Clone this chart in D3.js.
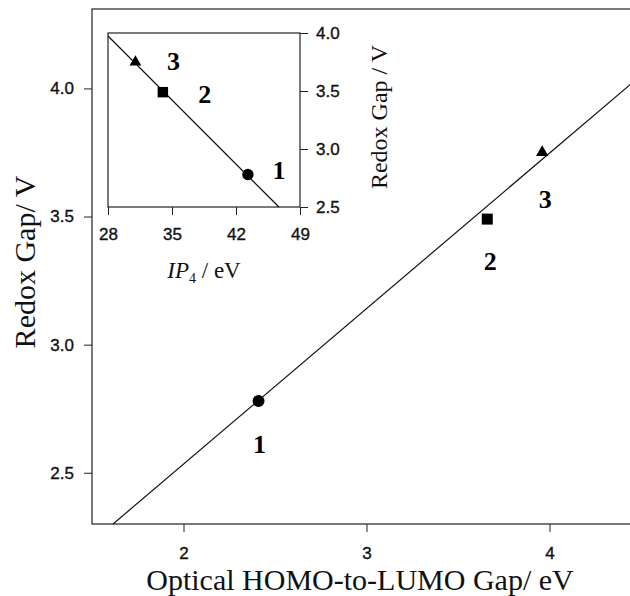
<!DOCTYPE html>
<html>
<head>
<meta charset="utf-8">
<script src="https://cdn.jsdelivr.net/npm/d3@7"></script>
<style>
  html, body { margin: 0; padding: 0; background: #fff; }
  svg { display: block; }
  .tick line { stroke: #222; }
  .title { font-family: 'Liberation Serif', 'Times New Roman', serif; fill: #111; }
  .num { font-family: 'Liberation Serif', 'Times New Roman', serif; font-weight: bold; font-size: 26px; fill: #000; }
</style>
</head>
<body>
<div id="chart"></div>
<script>
// compounds 1, 2, 3
const compounds = ['1', '2', '3'];
const symbols = ['circle', 'square', 'triangle'];
const opticalGap = [2.41, 3.66, 3.96];   // eV
const redoxGap = [2.78, 3.49, 3.75];     // V
const ip4 = [43.3, 34.0, 31.0];          // eV

// straight lines
const mainFitX = [1.615, 4.5];
const mainFitY = [2.30, 4.051];
const insetFitX = [28, 46.7];
const insetFitY = [3.974, 2.5];

const mainXTicks = [2, 3, 4];
const mainYTicks = [2.5, 3.0, 3.5, 4.0];
const insetXTicks = [28, 35, 42, 49];
const insetYTicks = [2.5, 3.0, 3.5, 4.0];

// label offsets (px) from each point
const mainLabelOffset = [[1, 52], [3, 51], [3, 56]];
const insetLabelOffset = [[31, 4], [42, 11], [38, 8]];

const width = 630, height = 596;

const svg = d3.select('#chart').append('svg')
  .attr('width', width)
  .attr('height', height);

const symbolType = {
  circle: d3.symbolCircle,
  square: d3.symbolSquare,
  triangle: d3.symbolTriangle
};
const symbolSize = { circle: 113, square: 121, triangle: 66 };

function drawPanel(g, opt) {
  const x = opt.x, y = opt.y;
  const [x0, x1] = x.range();
  const [y0, y1] = y.range();

  // frame
  g.append('rect')
    .attr('x', x0).attr('y', y1)
    .attr('width', x1 - x0).attr('height', y0 - y1)
    .attr('fill', 'none')
    .attr('stroke', '#222')
    .attr('stroke-width', 1.2);

  const styleAxis = s => {
    s.select('.domain').remove();
    s.attr('font-family', "'Liberation Sans', Arial, sans-serif")
      .attr('font-size', 17);
    s.selectAll('.tick text').attr('fill', '#111')
      .attr('stroke', '#111').attr('stroke-width', 0.35);
  };

  const xAxis = d3.axisBottom(x).tickValues(opt.xTicks).tickSize(opt.tick).tickSizeOuter(0)
    .tickPadding(opt.xPad).tickFormat(opt.xFormat);
  g.append('g').attr('transform', `translate(0,${y0})`).call(xAxis).call(styleAxis);

  const yAxis = (opt.yRight ? d3.axisRight(y) : d3.axisLeft(y))
    .tickValues(opt.yTicks).tickSize(opt.tick).tickSizeOuter(0)
    .tickPadding(opt.yPad).tickFormat(d3.format('.1f'));
  g.append('g').attr('transform', `translate(${opt.yRight ? x1 : x0},0)`).call(yAxis).call(styleAxis);

  // fit line
  const line = d3.line().x(d => x(d[0])).y(d => y(d[1]));
  g.append('path')
    .datum(opt.fitX.map((v, i) => [v, opt.fitY[i]]))
    .attr('d', line)
    .attr('fill', 'none')
    .attr('stroke', '#111')
    .attr('stroke-width', 1.2);

  // points
  const pts = opt.xs.map((v, i) => ({ x: v, y: opt.ys[i], s: symbols[i], n: compounds[i], off: opt.offsets[i] }));
  g.append('g').selectAll('path')
    .data(pts)
    .enter()
    .append('path')
    .attr('transform', d => `translate(${x(d.x)},${y(d.y)})`)
    .attr('d', d => d3.symbol().type(symbolType[d.s]).size(symbolSize[d.s] * opt.scale)())
    .attr('fill', '#000');

  g.append('g').selectAll('text')
    .data(pts)
    .enter()
    .append('text')
    .classed('num', true)
    .attr('text-anchor', 'middle')
    .attr('x', d => x(d.x) + d.off[0])
    .attr('y', d => y(d.y) + d.off[1])
    .text(d => d.n);
}

// main plot
const mainX = d3.scaleLinear().domain([1.5, 4.5]).range([92, 641]);
const mainY = d3.scaleLinear().domain([2.3, 4.31]).range([524, 9]);
const main = svg.append('g').classed('main', true);
drawPanel(main, {
  x: mainX, y: mainY,
  xTicks: mainXTicks, yTicks: mainYTicks,
  xFormat: d3.format('d'),
  tick: 8, xPad: 15, yPad: 10,
  fitX: mainFitX, fitY: mainFitY,
  xs: opticalGap, ys: redoxGap,
  offsets: mainLabelOffset,
  scale: 1
});

main.append('text').classed('title', true)
  .attr('x', 360).attr('y', 590)
  .attr('text-anchor', 'middle')
  .style('font-size', '30px')
  .text('Optical HOMO-to-LUMO Gap/ eV');

main.append('text').classed('title', true)
  .attr('transform', 'translate(35,262) rotate(-90)')
  .attr('text-anchor', 'middle')
  .style('font-size', '30px')
  .text('Redox Gap/ V');

// inset
const insetX = d3.scaleLinear().domain([28, 49]).range([108, 300]);
const insetY = d3.scaleLinear().domain([2.5, 4.0]).range([207, 33]);
const inset = svg.append('g').classed('inset', true);
drawPanel(inset, {
  x: insetX, y: insetY,
  xTicks: insetXTicks, yTicks: insetYTicks,
  xFormat: d3.format('d'),
  tick: 8, xPad: 13, yPad: 8, yRight: true,
  fitX: insetFitX, fitY: insetFitY,
  xs: ip4, ys: redoxGap,
  offsets: insetLabelOffset,
  scale: 0.9
});

const ipTitle = inset.append('text').classed('title', true)
  .attr('x', 204).attr('y', 278)
  .attr('text-anchor', 'middle')
  .style('font-size', '23px');
ipTitle.append('tspan').style('font-style', 'italic').text('IP');
ipTitle.append('tspan').attr('dy', 5).style('font-size', '14px').text('4');
ipTitle.append('tspan').attr('dy', -5).text(' / eV');

inset.append('text').classed('title', true)
  .attr('transform', 'translate(387,117) rotate(-90)')
  .attr('text-anchor', 'middle')
  .style('font-size', '24px')
  .text('Redox Gap / V');
</script>
</body>
</html>
